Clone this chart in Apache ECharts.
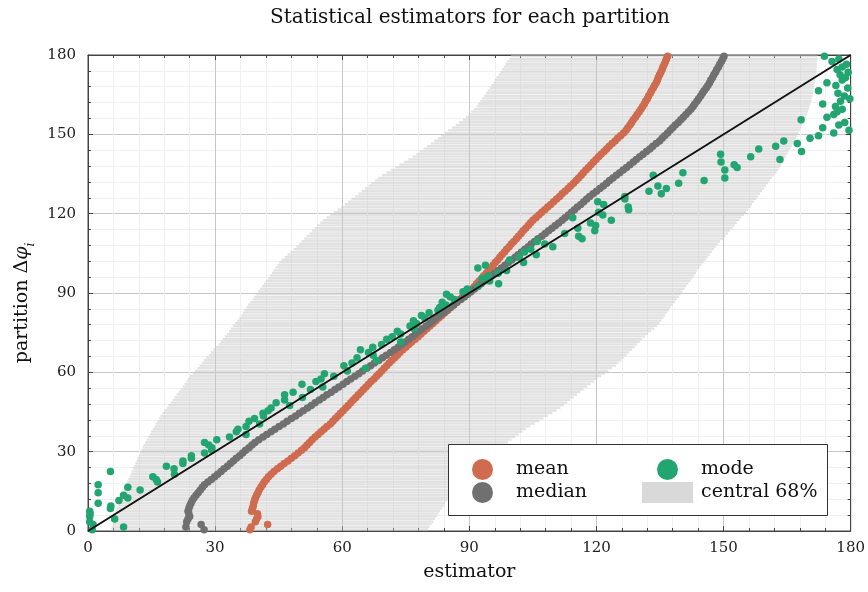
<!DOCTYPE html>
<html>
<head>
<meta charset="utf-8">
<script src="https://cdn.jsdelivr.net/npm/echarts@6/dist/echarts.min.js"></script>
<style>
    html, body { margin: 0; padding: 0; background: #fff; }
    #main { width: 868px; height: 592px; }
</style>
</head>
<body>
<div id="main"></div>
<script>
// partition i covers [i, i+1] degrees

// lower edge of the central 68% interval
var lo = [5.5, 5.6, 5.8, 5.9, 6.0, 6.1, 6.3, 6.5, 6.7, 7.0,
    7.2, 7.5, 7.7, 8.0, 8.2, 8.5, 8.7, 9.0, 9.2, 9.5,
    9.8, 10.1, 10.3, 10.6, 10.9, 11.2, 11.5, 11.7, 12.0, 12.3,
    12.6, 12.9, 13.1, 13.5, 13.9, 14.2, 14.6, 14.9, 15.3, 15.7,
    16.0, 16.4, 16.8, 17.1, 17.5, 18.1, 18.6, 19.0, 19.5, 20.0,
    20.4, 20.9, 21.4, 21.8, 22.3, 22.8, 23.3, 23.6, 24.1, 24.7,
    25.2, 25.8, 26.3, 26.9, 27.4, 27.9, 28.5, 29.0, 29.6, 30.1,
    30.8, 31.3, 31.8, 32.3, 32.8, 33.3, 33.7, 34.2, 34.7, 35.2,
    35.7, 36.2, 36.5, 36.9, 37.4, 37.8, 38.3, 38.8, 39.2, 39.7,
    40.1, 40.6, 41.1, 41.5, 42.0, 42.5, 42.9, 43.4, 43.8, 44.2,
    44.7, 45.1, 45.7, 46.4, 47.1, 47.8, 48.5, 49.2, 49.8, 50.4,
    51.0, 51.6, 52.3, 52.9, 53.5, 54.1, 54.8, 55.4, 56.3, 57.2,
    58.0, 58.9, 59.8, 60.6, 61.4, 62.2, 63.0, 63.8, 64.6, 65.4,
    66.2, 66.9, 67.7, 68.5, 69.4, 70.4, 71.5, 72.5, 73.5, 74.6,
    75.6, 76.6, 77.5, 78.3, 79.2, 80.0, 80.9, 81.7, 82.6, 83.3,
    84.2, 85.0, 85.9, 86.8, 87.6, 88.5, 89.2, 89.8, 90.4, 91.1,
    91.7, 92.1, 92.6, 93.0, 93.5, 93.9, 94.3, 94.8, 95.2, 95.7,
    96.0, 96.4, 96.9, 97.3, 97.7, 98.1, 98.5, 98.9, 99.4, 99.8];

// upper edge of the central 68% interval
var hi = [80.2, 80.6, 81.1, 81.5, 81.9, 82.3, 82.7, 83.1, 83.6, 84.0,
    84.3, 84.8, 85.2, 85.7, 86.1, 86.5, 87.0, 87.4, 87.9, 88.3,
    88.9, 89.6, 90.2, 90.8, 91.5, 92.4, 93.2, 94.1, 95.0, 95.8,
    96.7, 97.4, 98.3, 99.1, 100.0, 100.8, 101.7, 102.5, 103.4, 104.4,
    105.4, 106.5, 107.5, 108.5, 109.6, 110.6, 111.5, 112.3, 113.1, 113.8,
    114.6, 115.4, 116.2, 117.0, 117.8, 118.6, 119.4, 120.2, 121.1, 122.0,
    122.8, 123.7, 124.6, 125.2, 125.9, 126.5, 127.1, 127.7, 128.4, 129.0,
    129.6, 130.2, 130.8, 131.5, 132.2, 132.9, 133.6, 134.3, 134.9, 135.3,
    135.8, 136.2, 136.6, 137.1, 137.5, 138.0, 138.5, 138.9, 139.4, 139.9,
    140.3, 140.8, 141.2, 141.7, 142.2, 142.6, 143.1, 143.5, 143.8, 144.3,
    144.8, 145.3, 145.8, 146.3, 146.7, 147.2, 147.7, 148.2, 148.7, 149.2,
    149.9, 150.4, 151.0, 151.5, 152.1, 152.6, 153.1, 153.7, 154.2, 154.8,
    155.3, 155.9, 156.4, 156.7, 157.2, 157.7, 158.2, 158.6, 159.1, 159.6,
    160.0, 160.5, 161.0, 161.4, 161.9, 162.5, 162.9, 163.2, 163.6, 164.0,
    164.3, 164.7, 165.1, 165.4, 165.8, 166.1, 166.5, 166.9, 167.1, 167.4,
    167.7, 168.0, 168.3, 168.5, 168.8, 169.1, 169.4, 169.7, 169.9, 170.1,
    170.3, 170.5, 170.7, 170.8, 171.0, 171.1, 171.2, 171.3, 171.4, 171.5,
    171.6, 171.7, 171.8, 171.9, 172.0, 172.0, 172.1, 172.1, 172.2, 172.2];

var meanVals = [38.2, 38.5, 42.4, 39.5, 39.8, 40.1, 40.0, 38.6, 38.8, 39.0,
    39.1, 39.3, 39.5, 39.8, 40.1, 40.4, 40.8, 41.2, 41.6, 42.1,
    42.6, 43.2, 43.9, 44.7, 45.5, 46.3, 47.2, 48.0, 48.8, 49.6,
    50.4, 51.1, 51.7, 52.3, 52.9, 53.6, 54.3, 55.0, 55.7, 56.4,
    57.2, 57.8, 58.4, 59.0, 59.6, 60.2, 60.8, 61.4, 62.0, 62.6,
    63.2, 63.8, 64.4, 65.0, 65.6, 66.2, 66.8, 67.5, 68.1, 68.7,
    69.3, 69.9, 70.5, 71.1, 71.7, 72.4, 73.0, 73.6, 74.3, 75.0,
    75.7, 76.4, 77.2, 77.9, 78.6, 79.3, 80.0, 80.7, 81.4, 82.1,
    82.8, 83.5, 84.2, 84.9, 85.6, 86.3, 87.0, 87.7, 88.4, 89.2,
    90.0, 90.6, 91.2, 91.7, 92.3, 92.9, 93.4, 94.0, 94.5, 95.1,
    95.6, 96.1, 96.7, 97.2, 97.7, 98.3, 98.8, 99.4, 99.9, 100.5,
    101.1, 101.6, 102.2, 102.7, 103.3, 103.9, 104.4, 105.0, 105.7, 106.4,
    107.1, 107.8, 108.5, 109.2, 109.9, 110.6, 111.3, 111.9, 112.6, 113.3,
    113.9, 114.6, 115.2, 115.8, 116.4, 116.9, 117.5, 118.1, 118.7, 119.3,
    119.9, 120.5, 121.1, 121.8, 122.4, 123.0, 123.7, 124.4, 125.0, 125.7,
    126.4, 127.0, 127.4, 127.9, 128.3, 128.7, 129.2, 129.6, 130.1, 130.5,
    130.9, 131.3, 131.6, 132.0, 132.3, 132.7, 133.0, 133.4, 133.7, 134.1,
    134.4, 134.6, 134.9, 135.2, 135.5, 135.7, 136.0, 136.3, 136.5, 136.8];

var medianVals = [27.4, 23.1, 26.7, 23.3, 23.6, 24.0, 23.8, 23.6, 23.8, 24.0,
    24.3, 24.6, 25.0, 25.5, 26.0, 26.5, 27.0, 27.5, 28.3, 29.1,
    29.9, 30.6, 31.4, 32.1, 32.9, 33.6, 34.3, 35.0, 35.8, 36.5,
    37.2, 38.0, 38.7, 39.4, 40.3, 41.3, 42.2, 43.2, 44.1, 45.1,
    46.1, 47.0, 48.0, 49.0, 49.9, 50.8, 51.8, 52.7, 53.6, 54.6,
    55.5, 56.4, 57.4, 58.3, 59.2, 60.2, 61.1, 62.0, 63.0, 63.9,
    64.8, 65.8, 66.7, 67.6, 68.6, 69.5, 70.4, 71.4, 72.3, 73.2,
    74.0, 74.8, 75.7, 76.5, 77.3, 78.1, 78.9, 79.8, 80.6, 81.4,
    82.2, 83.0, 83.9, 84.7, 85.5, 86.3, 87.1, 88.0, 88.8, 89.6,
    90.4, 91.2, 92.0, 92.8, 93.6, 94.4, 95.2, 96.0, 96.8, 97.6,
    98.4, 99.2, 100.0, 100.8, 101.5, 102.3, 103.1, 103.9, 104.6, 105.4,
    106.2, 107.1, 107.9, 108.7, 109.5, 110.3, 111.1, 111.9, 112.6, 113.4,
    114.1, 114.8, 115.5, 116.3, 117.0, 117.7, 118.4, 119.2, 120.0, 120.8,
    121.6, 122.4, 123.1, 123.9, 124.7, 125.5, 126.3, 127.1, 127.9, 128.7,
    129.4, 130.2, 131.0, 131.8, 132.6, 133.3, 134.1, 134.9, 135.5, 136.1,
    136.8, 137.4, 138.0, 138.6, 139.3, 139.9, 140.5, 141.1, 141.7, 142.3,
    142.8, 143.2, 143.7, 144.1, 144.6, 145.0, 145.4, 145.9, 146.3, 146.7,
    147.0, 147.4, 147.7, 148.1, 148.4, 148.8, 149.1, 149.5, 149.8, 150.1];

var modeVals = [1.0, 8.4, 1.2, 0.4, 6.3, 0.4, 0.5, 0.4, 5.3, 5.4,
    2.4, 7.3, 9.4, 8.4, 2.4, 12.3, 9.4, 2.4, 16.4, 16.1,
    15.3, 20.4, 5.3, 20.3, 18.5, 22.4, 22.4, 24.4, 24.4, 27.5,
    29.2, 29.2, 28.5, 27.5, 30.4, 33.4, 37.3, 35.0, 35.4, 37.3,
    40.5, 38.0, 39.3, 41.4, 41.3, 42.5, 43.2, 47.6, 44.4, 46.4,
    50.6, 46.4, 48.4, 52.5, 55.4, 50.5, 53.8, 55.0, 58.0, 55.8,
    61.2, 65.5, 60.4, 62.3, 68.1, 63.5, 67.3, 66.2, 64.3, 67.2,
    69.3, 73.8, 70.5, 71.8, 73.8, 73.0, 77.0, 76.0, 77.5, 76.8,
    79.5, 78.7, 80.5, 82.6, 83.0, 84.5, 83.6, 86.5, 85.5, 84.6,
    88.5, 89.5, 92.0, 96.9, 94.8, 93.0, 94.5, 96.8, 98.8, 92.0,
    93.8, 102.8, 99.5, 101.8, 105.8, 103.0, 104.5, 109.7, 107.8, 106.0,
    116.6, 115.8, 112.5, 119.6, 115.6, 119.8, 118.6, 123.5, 114.4, 121.5,
    120.5, 127.6, 127.5, 121.7, 120.3, 126.7, 126.7, 135.3, 132.4, 136.5,
    134.5, 139.4, 145.4, 150.3, 133.4, 140.4, 150.3, 153.2, 152.5, 149.4,
    163.3, 156.4, 149.3, 168.4, 158.3, 162.3, 167.4, 164.2, 170.4, 172.4,
    176.0, 179.6, 173.4, 177.2, 178.6, 168.3, 174.4, 176.0, 176.8, 178.0,
    176.4, 173.4, 177.6, 179.8, 178.5, 177.0, 172.4, 179.3, 176.5, 174.4,
    178.0, 178.8, 177.5, 179.4, 176.8, 178.0, 179.0, 175.6, 177.2, 173.8];

// y = x reference line
var diagonal = [[0, 0], [180, 180]];

var bandData = [];
var meanData = [];
var medianData = [];
var modeData = [];
for (var i = 0; i < lo.length; i++) {
    bandData.push([lo[i], hi[i], i]);
    meanData.push([meanVals[i], i + 0.5]);
    medianData.push([medianVals[i], i + 0.5]);
    modeData.push([modeVals[i], i + 0.5]);
}

var serif = 'DejaVu Serif';
var axisColor = '#444';

// 坐标轴公共设置 (ticks inside, minor ticks every 6)
function makeAxis(position, showLabel) {
    return {
        type: 'value',
        position: position,
        min: 0,
        max: 180,
        interval: 30,
        axisLine: { show: true, onZero: false, lineStyle: { color: axisColor, width: 1 } },
        axisTick: { show: true, inside: true, length: 5, lineStyle: { color: axisColor } },
        minorTick: { show: true, splitNumber: 5, length: 3, lineStyle: { color: axisColor } },
        axisLabel: { show: showLabel, fontFamily: serif, fontSize: 15, color: '#222' },
        splitLine: { show: showLabel, lineStyle: { color: '#c6c6c6', width: 1 } },
        minorSplitLine: { show: showLabel, lineStyle: { color: '#f0f0f0', width: 1 } }
    };
}

var xMain = makeAxis('bottom', true);
xMain.name = 'estimator';
xMain.nameLocation = 'middle';
xMain.nameGap = 32;
xMain.nameTextStyle = { fontFamily: serif, fontSize: 19, color: '#111' };
xMain.axisLabel.margin = 10;

var yMain = makeAxis('left', true);
yMain.name = 'partition Δ{it|φ}{sub|i}';
yMain.nameLocation = 'middle';
yMain.nameGap = 46;
yMain.nameTextStyle = {
    fontFamily: serif, fontSize: 19, color: '#111',
    padding: [0, 20, 0, 0],
    rich: {
        it: { fontFamily: serif, fontSize: 19, fontStyle: 'italic', color: '#111' },
        sub: { fontFamily: serif, fontSize: 12, fontStyle: 'italic', color: '#111', verticalAlign: 'bottom', lineHeight: 28 }
    }
};
yMain.axisLabel.margin = 12;

var myChart = echarts.init(document.getElementById('main'));

var option = {
    animation: false,
    backgroundColor: '#fff',
    title: {
        text: 'Statistical estimators for each partition',
        left: 465,
        top: 3,
        textAlign: 'center',
        textStyle: { fontFamily: serif, fontSize: 20, fontWeight: 'normal', color: '#111' }
    },
    grid: {
        left: 88,
        right: 17,
        top: 55,
        bottom: 61,
        show: true,
        borderColor: axisColor,
        borderWidth: 1
    },
    xAxis: [xMain, makeAxis('top', false)],
    yAxis: [yMain, makeAxis('right', false)],
    graphic: [{
        type: 'rect',
        left: 448,
        top: 444,
        z: 100,
        shape: { width: 379, height: 71 },
        style: { fill: '#fff', stroke: '#333', lineWidth: 1 }
    }],
    legend: [{
        z: 110,
        left: 472,
        top: 459,
        orient: 'vertical',
        padding: 0,
        itemWidth: 51,
        itemHeight: 21,
        itemGap: 2,
        textStyle: { fontFamily: serif, fontSize: 19, color: '#111', padding: [0, 0, 0, 3] },
        data: [{ name: 'mean', icon: 'circle' }, { name: 'median', icon: 'circle' }]
    }, {
        z: 110,
        left: 642,
        top: 459,
        orient: 'vertical',
        padding: 0,
        itemWidth: 51,
        itemHeight: 21,
        itemGap: 2,
        textStyle: { fontFamily: serif, fontSize: 19, color: '#111', padding: [0, 0, 0, 3] },
        data: [{ name: 'mode', icon: 'circle' }, { name: 'central 68%', icon: 'rect', itemStyle: { color: '#d9d9d9' } }]
    }],
    series: [
        {
            name: 'central 68%',
            type: 'custom',
            z: 1,
            silent: true,
            itemStyle: { color: '#d9d9d9' },
            encode: { x: [0, 1], y: 2 },
            renderItem: function (params, api) {
                var p0 = api.coord([api.value(0), api.value(2) + 1]);
                var p1 = api.coord([api.value(1), api.value(2)]);
                return {
                    type: 'rect',
                    shape: { x: p0[0], y: p0[1], width: p1[0] - p0[0], height: p1[1] - p0[1] - 0.35 },
                    style: { fill: 'rgba(200,200,200,0.52)' }
                };
            },
            data: bandData
        },
        {
            name: 'mean',
            type: 'scatter',
            z: 2,
            symbolSize: 7.5,
            itemStyle: { color: '#cf6b4f', opacity: 1 },
            data: meanData
        },
        {
            name: 'median',
            type: 'scatter',
            z: 3,
            symbolSize: 7.5,
            itemStyle: { color: '#707070', opacity: 1 },
            data: medianData
        },
        {
            name: 'mode',
            type: 'scatter',
            z: 4,
            symbolSize: 7.5,
            itemStyle: { color: '#22a571', opacity: 1 },
            data: modeData
        },
        {
            name: 'diagonal',
            type: 'line',
            z: 5,
            silent: true,
            symbol: 'none',
            lineStyle: { color: '#111', width: 2 },
            data: diagonal
        }
    ]
};

myChart.setOption(option);
</script>
</body>
</html>
